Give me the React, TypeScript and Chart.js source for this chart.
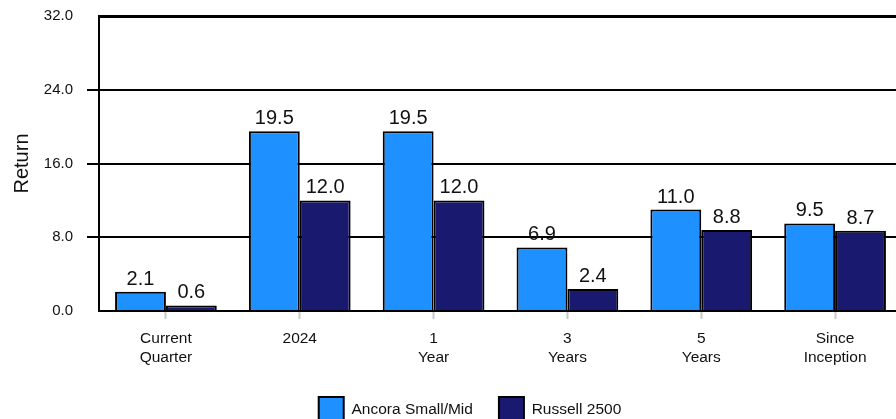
import React, { useEffect, useRef } from "react";
import { Chart, registerables } from "chart.js";

Chart.register(...registerables);

const categories: (string | string[])[] = [
  ["Current", "Quarter"],
  "2024",
  ["1", "Year"],
  ["3", "Years"],
  ["5", "Years"],
  ["Since", "Inception"],
];
const ancoraValues = [2.1, 19.5, 19.5, 6.9, 11.0, 9.5];
const russellValues = [0.6, 12.0, 12.0, 2.4, 8.8, 8.7];
const seriesNames = ["Ancora Small/Mid", "Russell 2500"];
const yTicks = { min: 0, max: 32, step: 8 };

const FONT = "'Liberation Sans', Arial, Helvetica, sans-serif";

const valueLabels = {
  id: "valueLabels",
  afterDatasetsDraw(chart: any) {
    const ctx = chart.ctx;
    ctx.save();
    ctx.font = `20px ${FONT}`;
    ctx.fillStyle = "#111";
    ctx.textAlign = "center";
    ctx.textBaseline = "alphabetic";
    chart.data.datasets.forEach((ds: any, di: number) => {
      const meta = chart.getDatasetMeta(di);
      meta.data.forEach((bar: any, i: number) => {
        const v = ds.data[i];
        ctx.fillText(Number(v).toFixed(1), bar.x, bar.y - 7);
      });
    });
    ctx.restore();
  },
};

export default function App() {
  const ref = useRef<HTMLCanvasElement>(null);
  useEffect(() => {
    if (!ref.current) return;
    const chart = new Chart(ref.current, {
      type: "bar",
      data: {
        labels: categories,
        datasets: [
          {
            label: seriesNames[0],
            data: ancoraValues,
            backgroundColor: "#1E90FF",
            borderColor: "#000",
            borderWidth: 2,
            categoryPercentage: 0.76,
            barPercentage: 1,
          },
          {
            label: seriesNames[1],
            data: russellValues,
            backgroundColor: "#191970",
            borderColor: "#000",
            borderWidth: 2,
            categoryPercentage: 0.76,
            barPercentage: 1,
          },
        ],
      },
      options: {
        responsive: false,
        animation: false,
        devicePixelRatio: 1,
        layout: { padding: { top: 16, left: 0, right: 0, bottom: 8 } },
        plugins: {
          tooltip: { enabled: false },
          legend: {
            position: "bottom",
            labels: {
              boxWidth: 25,
              boxHeight: 25,
              padding: 26,
              color: "#111",
              font: { family: FONT, size: 15.5 },
            },
          },
        },
        scales: {
          x: {
            grid: {
              offset: false,
              drawOnChartArea: false,
              drawTicks: true,
              tickLength: 8,
              tickColor: "#c8c8c8",
              tickWidth: 2,
            },
            border: { display: false },
            ticks: {
              color: "#111",
              padding: 10,
              maxRotation: 0,
              autoSkip: false,
              font: { family: FONT, size: 15.5, lineHeight: 1.25 },
            },
            afterFit(s: any) {
              s.height = 60;
              s.paddingLeft = 0;
              s.paddingRight = 0;
            },
          },
          y: {
            min: yTicks.min,
            max: yTicks.max,
            ticks: {
              stepSize: yTicks.step,
              color: "#111",
              padding: 14,
              font: { family: FONT, size: 15 },
              callback: (v: any) => Number(v).toFixed(1),
            },
            grid: {
              color: "#000",
              lineWidth: (c: any) => (c.tick && c.tick.value === yTicks.max ? 3 : 2),
              tickLength: 12,
              tickWidth: 2,
              tickColor: (c: any) =>
                c.tick && (c.tick.value === yTicks.max || c.tick.value === yTicks.min)
                  ? "rgba(0,0,0,0)"
                  : "#000",
            },
            border: { display: true, color: "#000", width: 2 },
            title: {
              display: true,
              text: "Return",
              color: "#111",
              font: { family: FONT, size: 20 },
              padding: { top: 10, bottom: 0 },
            },
            afterFit(s: any) {
              s.width = 99;
              s.paddingTop = 0;
              s.paddingBottom = 0;
            },
          },
          y2: {
            type: "linear",
            position: "right",
            display: true,
            ticks: { display: false },
            grid: { display: false },
            border: { display: false },
            afterFit(s: any) {
              s.width = 38;
              s.paddingTop = 0;
              s.paddingBottom = 0;
            },
          },
        },
      },
      plugins: [valueLabels],
    } as any);
    return () => chart.destroy();
  }, []);
  return (
    <div style={{ position: "fixed", left: 0, top: 0, width: 940, height: 440 }}>
      <canvas ref={ref} width={940} height={440} style={{ width: 940, height: 440, display: "block" }} />
    </div>
  );
}
